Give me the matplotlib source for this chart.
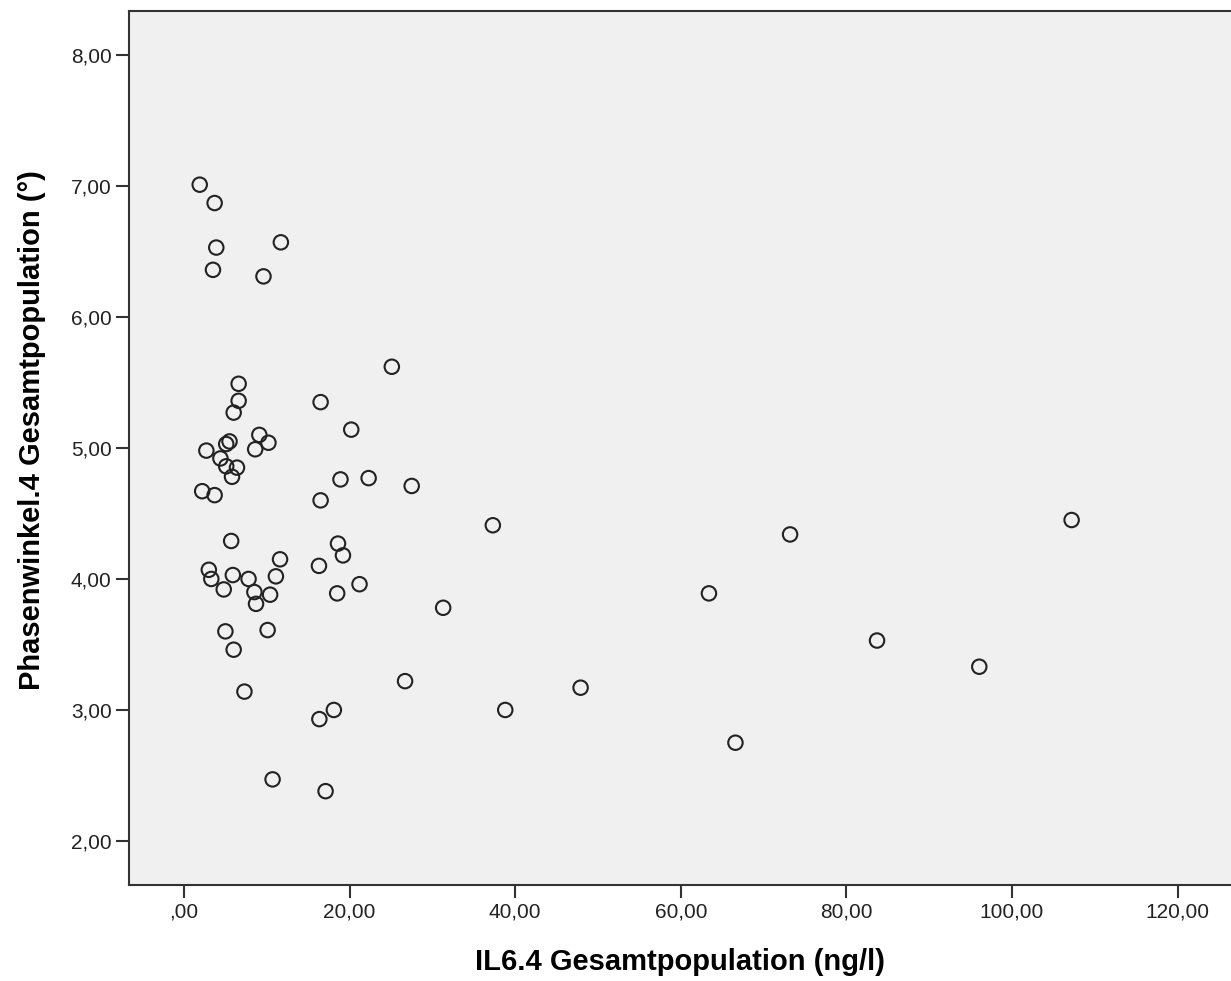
"""
plot.py — Streudiagramm IL6.4 vs. Phasenwinkel.4 (Gesamtpopulation), SPSS-Stil
"""

import matplotlib
matplotlib.use("Agg")
import matplotlib.pyplot as plt
from matplotlib.ticker import FuncFormatter

# ─────────────────────────────────────────────────────────
#  Daten
# ─────────────────────────────────────────────────────────
il6 = [
    1.9, 3.7, 3.9, 3.5, 11.7, 9.6, 25.1, 6.6, 16.5, 6.6,
    6.0, 20.2, 9.1, 5.5, 5.1, 10.2, 2.7, 8.6, 4.4, 5.1,
    6.4, 5.8, 18.9, 22.3, 27.5, 2.2, 3.7, 16.5, 5.7, 11.6,
    3.0, 3.3, 5.9, 7.8, 11.1, 4.8, 8.5, 10.4, 8.7, 5.0,
    10.1, 6.0, 7.3, 10.7, 17.1, 16.35, 18.1, 26.7, 18.6, 19.2,
    16.3, 21.2, 18.5, 37.3, 31.3, 38.8, 47.9, 63.4, 66.6, 73.2,
    83.7, 96.05, 107.2,
]
phasenwinkel = [
    7.01, 6.87, 6.53, 6.36, 6.57, 6.31, 5.62, 5.49, 5.35, 5.36,
    5.27, 5.14, 5.10, 5.05, 5.03, 5.04, 4.98, 4.99, 4.92, 4.86,
    4.85, 4.78, 4.76, 4.77, 4.71, 4.67, 4.64, 4.60, 4.29, 4.15,
    4.07, 4.00, 4.03, 4.00, 4.02, 3.92, 3.90, 3.88, 3.81, 3.60,
    3.61, 3.46, 3.14, 2.47, 2.38, 2.93, 3.00, 3.22, 4.27, 4.18,
    4.10, 3.96, 3.89, 4.41, 3.78, 3.00, 3.17, 3.89, 2.75, 4.34,
    3.53, 3.33, 4.45,
]

x_ticks = [0, 20, 40, 60, 80, 100, 120]
y_ticks = [2, 3, 4, 5, 6, 7, 8]

X_LABEL = "IL6.4 Gesamtpopulation (ng/l)"
Y_LABEL = "Phasenwinkel.4 Gesamtpopulation (°)"


def spss_fmt(v, _pos=None):
    """Deutsches Zahlenformat wie SPSS: 20,00 und ,00 für Null."""
    s = f"{v:.2f}".replace(".", ",")
    if s.startswith("0,"):
        s = s[1:]
    return s


# ─────────────────────────────────────────────────────────
#  Plot
# ─────────────────────────────────────────────────────────
plt.rcParams["font.family"] = ["Liberation Sans", "DejaVu Sans"]

fig = plt.figure(figsize=(12.31, 9.81), dpi=100)
ax = fig.add_axes([0.1048, 0.0979, 0.8952, 0.8909])
ax.set_facecolor("#f0f0f0")

ax.scatter(il6, phasenwinkel, s=108, facecolors="none",
           edgecolors="#222222", linewidths=1.5, zorder=3)

ax.set_xlim(-6.64, 126.45)
ax.set_ylim(1.664, 8.336)
ax.set_xticks(x_ticks)
ax.set_yticks(y_ticks)
ax.xaxis.set_major_formatter(FuncFormatter(spss_fmt))
ax.yaxis.set_major_formatter(FuncFormatter(spss_fmt))

ax.tick_params(axis="both", length=9.5, width=1.5, color="#333333",
               labelsize=15, labelcolor="#222222", pad=3)

for side in ("left", "top", "bottom"):
    ax.spines[side].set_linewidth(1.5)
    ax.spines[side].set_color("#333333")
ax.spines["right"].set_visible(False)

ax.set_xlabel(X_LABEL, fontsize=21, fontweight="bold", labelpad=19)
ax.set_ylabel(Y_LABEL, fontsize=21, fontweight="bold", labelpad=18, y=0.52)

fig.savefig("out.png", dpi=100)
